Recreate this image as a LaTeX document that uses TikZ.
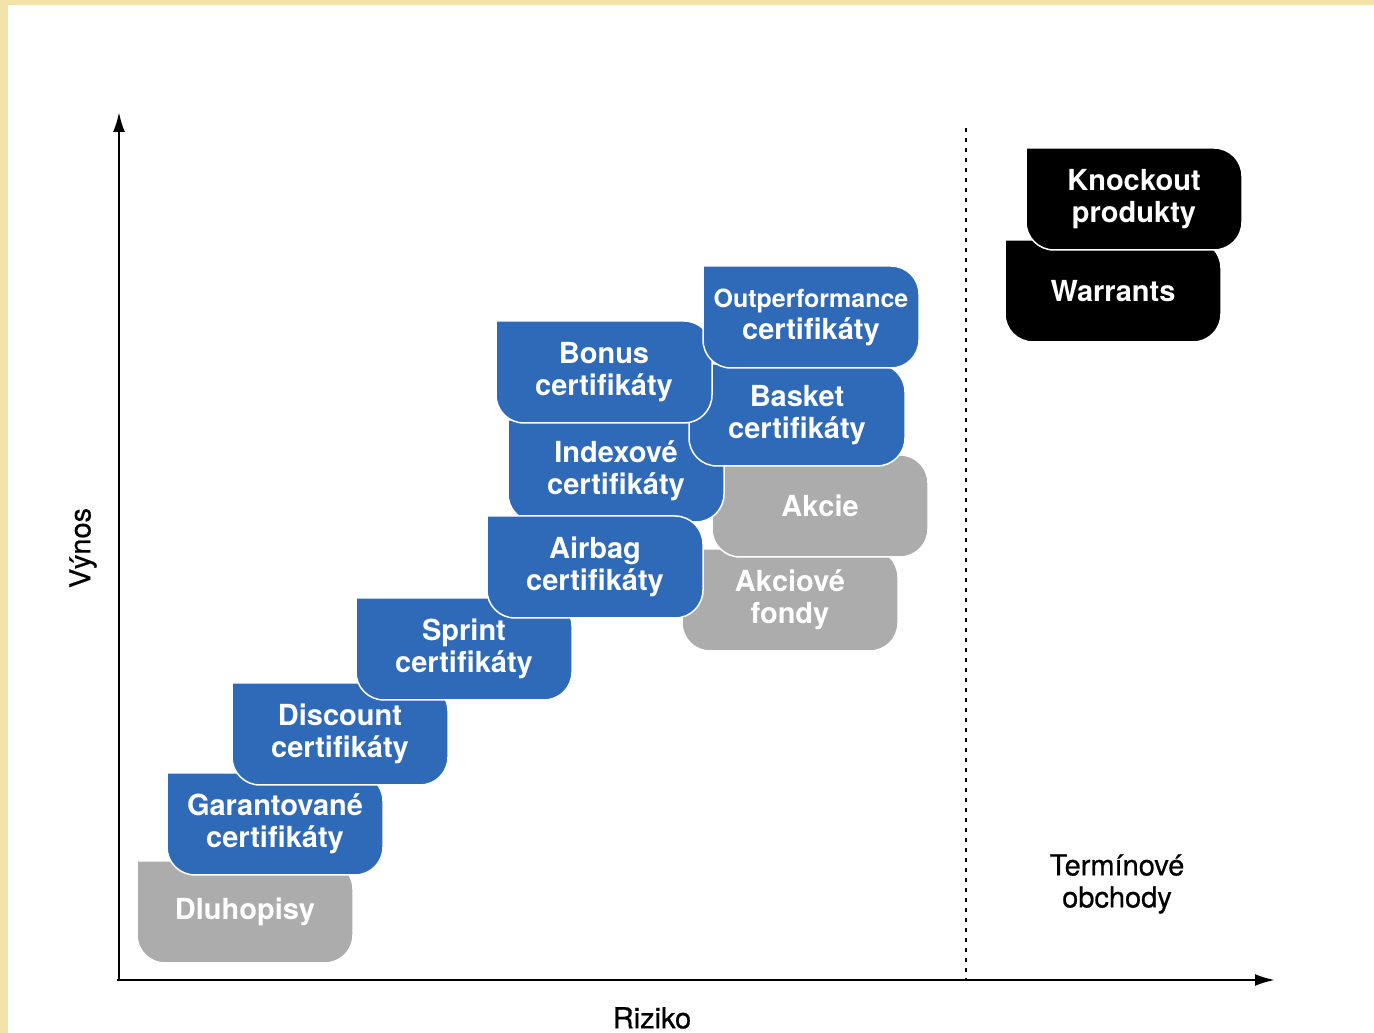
\documentclass[tikz,border=0pt]{standalone}
\usepackage{fontspec}
\setmainfont{TeX Gyre Heros}
\newfontfamily\stredni{TeX Gyre Heros}[FakeBold=0.6]
\usetikzlibrary{arrows.meta}

\definecolor{modra}{RGB}{47,106,185}
\definecolor{seda}{RGB}{172,172,172}
\definecolor{zluta}{RGB}{243,226,169}

\begin{document}
\begin{tikzpicture}[
        x=1pt, y=1pt,
        prod/.style = {text=white, align=center, font=\fontsize{29}{32}\selectfont\bfseries},
        popis/.style = {align=center, font=\stredni\fontsize{29}{32}\selectfont}
    ]
    %Pozadi
    \fill[zluta] (0,0) rectangle (1374,1033);
    \fill[white] (8,0) rectangle (1374,1028);
    \useasboundingbox (0,0) rectangle (1374,1033);

    %Osy
    \coordinate (O) at (117,53);
    \coordinate (yosa) at (119,921);
    \coordinate (xosa) at (1275,53);
    \draw[line width=2.5pt, -{Latex[length=20pt, width=12pt]}] (O) -- (O-|yosa) -- (yosa);
    \draw[line width=2.5pt, -{Latex[length=20pt, width=12pt]}] (O) -- (xosa);
    \node[popis] (riziko) at (652,15) {Riziko};
    \node[popis, rotate=90] (vynos) at (83,485) {Výnos};

    %Hranice
    \coordinate (hraniceH) at (966,905);
    \coordinate (hraniceD) at (966,53);
    \draw[line width=1.8pt, dash pattern=on 4pt off 6pt] (hraniceH) -- (hraniceD);
    \node[popis] (terminove) at (1117,149) {Termínové\\obchody};

    %Boxy
    \foreach \n/\x/\y/\c/\t in {
            dluhopisy/245/121/seda/{Dluhopisy},
            garantovane/275/209/modra/{Garantované\\certifikáty},
            discount/340/299/modra/{Discount\\certifikáty},
            sprint/464/384/modra/{Sprint\\certifikáty},
            fondy/790/433/seda/{Akciové\\fondy},
            akcie/820/527/seda/{Akcie},
            indexove/616/562/modra/{Indexové\\certifikáty},
            airbag/595/466/modra/{Airbag\\certifikáty},
            basket/797/618/modra/{Basket\\certifikáty},
            bonus/604/661/modra/{Bonus\\certifikáty},
            outperf/811/716/modra/{{\fontsize{25}{32}\selectfont Outperformance}\\certifikáty},
            warrants/1113/742/black/{Warrants},
            knockout/1134/834/black/{Knockout\\produkty}}{
        \fill[\c, draw=white, line width=1.5pt, rounded corners=28pt]
            (\x-108,\y+51) -- (\x+108,\y+51) -- (\x+108,\y-51) -- (\x-108,\y-51) -- (\x-108,\y+51);
        \node[prod] (\n) at (\x,\y) {\t};
    }

\end{tikzpicture}
\end{document}
